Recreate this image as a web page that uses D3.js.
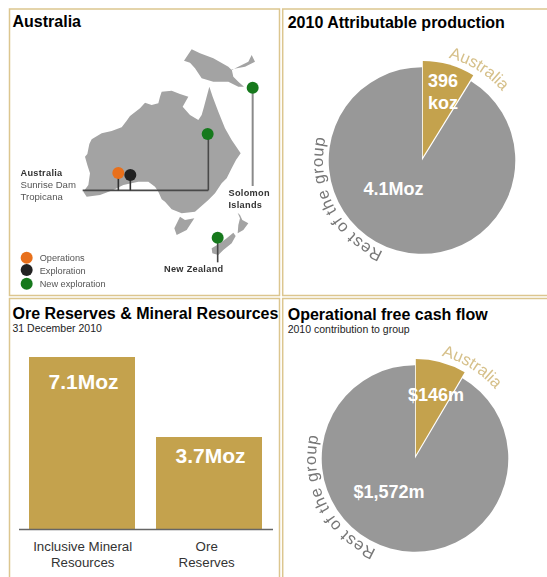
<!DOCTYPE html>
<html><head><meta charset="utf-8">
<style>html,body{margin:0;padding:0;background:#fff}svg{display:block}text{font-family:"Liberation Sans",Arial,sans-serif}</style>
<script src="https://cdn.jsdelivr.net/npm/d3@7"></script>
</head><body><svg id="c" width="547" height="577"></svg>
<script>
// Data
const productionNames = ["Australia", "Rest of the group"];
const productionValues = [396, 4100];
const productionLabels = ["396", "koz", "4.1Moz"];
const cashFlowNames = ["Australia", "Rest of the group"];
const cashFlowValues = [146, 1572];
const cashFlowLabels = ["$146m", "$1,572m"];
const oreCategories = [["Inclusive Mineral", "Resources"], ["Ore", "Reserves"]];
const oreValues = [7.1, 3.7];
const oreLabels = ["7.1Moz", "3.7Moz"];
const legendNames = ["Operations", "Exploration", "New exploration"];
// Base map outlines and sites, on a map grid of 840 x 900 units
const australiaRing = [[262,462],[268,432],[275,418],[305,400],[335,393],[365,382],[380,362],[390,348],[420,325],[435,308],[455,315],[475,310],[480,290],[485,275],[515,272],[540,282],[565,290],[548,320],[570,345],[595,360],[605,345],[612,320],[620,290],[628,260],[638,290],[655,335],[675,385],[695,420],[722,460],[708,480],[695,505],[680,535],[665,550],[645,580],[625,600],[585,635],[545,640],[515,628],[495,605],[485,598],[475,575],[465,560],[445,545],[415,545],[370,555],[340,570],[300,585],[260,590],[250,575],[265,555],[270,520],[262,495],[255,470]];
const papuaRing = [[552,182],[575,148],[600,160],[640,175],[685,200],[695,210],[745,185],[755,165],[765,185],[735,200],[695,208],[700,230],[715,245],[732,260],[715,260],[685,245],[640,245],[605,235],[585,205],[570,188]];
const tasmaniaRing = [[540,650],[555,660],[583,655],[560,690],[530,705],[523,685]];
const nzSouthRing = [[635,745],[660,730],[680,715],[700,698],[707,708],[695,730],[670,750],[655,765],[637,760]];
const nzNorthRing = [[713,638],[720,645],[727,660],[745,670],[730,690],[713,700],[715,675],[720,655]];
const sites = [
  {kind:0, x:355, y:519},
  {kind:1, x:391, y:525},
  {kind:2, x:623, y:402},
  {kind:2, x:758, y:263},
  {kind:2, x:653, y:713}
];
const kindColors = ["#e8701a", "#232323", "#17791f"];

const svg = d3.select("#c");
const gold = "#c4a24d", grey = "#989898", tan = "#dcc68f";
const defs = svg.append("defs");
defs.append("filter").attr("id","soft").append("feGaussianBlur").attr("stdDeviation",0.55);
defs.append("filter").attr("id","soft2").append("feGaussianBlur").attr("stdDeviation",0.3);

// Panels
[[9.5,9,270,286.5],[282.7,9,270,286.5],[9.5,298.5,270,290],[282.7,298.5,270,290]].forEach(r=>{
  svg.append("rect").attr("x",r[0]).attr("y",r[1]).attr("width",r[2]).attr("height",r[3])
    .attr("fill","none").attr("stroke",tan).attr("stroke-width",1.5);
});
function title(x,y,t){svg.append("text").attr("x",x).attr("y",y).attr("font-size",16).attr("font-weight","bold").attr("fill","#000").text(t);}
function sub(x,y,t){svg.append("text").attr("x",x).attr("y",y).attr("font-size",10.5).attr("fill","#222").text(t);}
title(12.5,27,"Australia");
title(287.7,28,"2010 Attributable production");
title(12.5,319,"Ore Reserves & Mineral Resources");
title(287.7,320,"Operational free cash flow");
sub(12.5,332,"31 December 2010");
sub(287.7,333,"2010 contribution to group");

// Map
const mx = d3.scaleLinear().domain([0,840]).range([0,280]);
const my = d3.scaleLinear().domain([0,900]).range([0,300]);
const ringLine = d3.line().x(d=>mx(d[0])).y(d=>my(d[1])).curve(d3.curveLinearClosed);
const map = svg.append("g").attr("filter","url(#soft)");
[australiaRing,papuaRing,tasmaniaRing,nzSouthRing,nzNorthRing].forEach(r=>{
  map.append("path").attr("d",ringLine(r)).attr("fill","#a3a3a3");
});
function stem(x1,y1,x2,y2,c,w){map.append("line").attr("x1",mx(x1)).attr("y1",my(y1)).attr("x2",mx(x2)).attr("y2",my(y2)).attr("stroke",c).attr("stroke-width",w);}
stem(248,571,625,571,"#4a4a4a",1.6);
stem(625,402,625,571,"#4a4a4a",1.6);
stem(355,519,355,571,"#333",1.6);
stem(391,525,391,571,"#333",1.6);
stem(758,263,758,558,"#8a8a8a",2);
stem(653,713,653,787,"#444",1.6);
map.selectAll("circle.site").data(sites).join("circle").attr("class","site")
  .attr("cx",d=>mx(d.x)).attr("cy",d=>my(d.y)).attr("r",6)
  .attr("fill",d=>kindColors[d.kind]);
legendNames.forEach((n,i)=>{
  const ly = [773,810,851][i];
  map.append("circle").attr("cx",mx(80)).attr("cy",my(ly)).attr("r",6).attr("fill",kindColors[i]);
  map.append("text").attr("x",mx(119)).attr("y",my(ly)+3.5).attr("font-size",9.2).attr("fill","#555").text(n);
});
function mapText(x,y,t,bold,c){map.append("text").attr("x",x).attr("y",y).attr("font-size",bold?9.2:9.6).attr("letter-spacing",bold?0.3:0)
  .attr("font-weight",bold?"bold":"normal").attr("fill",c).text(t);}
mapText(20.5,176,"Australia",true,"#333");
mapText(20.5,188,"Sunrise Dam",false,"#555");
mapText(20.5,200,"Tropicana",false,"#555");
mapText(228.5,196,"Solomon",true,"#333");
mapText(228.5,208,"Islands",true,"#333");
mapText(164,272,"New Zealand",true,"#333");

// Pies
function pieChart(cx,cy,values,names,gapx,idSuffix,startRest,endRest,startAus,endAus){
  const arcs = d3.pie().sort(null)(values);
  const g = svg.append("g").attr("transform",`translate(${cx},${cy})`);
  g.append("path").attr("d",d3.arc().innerRadius(0).outerRadius(93.3)(arcs[1])).attr("fill",grey);
  g.append("path").attr("transform",`translate(${gapx},-3.5)`)
    .attr("d",d3.arc().innerRadius(0).outerRadius(96)(arcs[0])).attr("fill",gold)
    .attr("stroke","#fff").attr("stroke-width",1).attr("paint-order","stroke");
  const pathFor = (id,r,a0,b0)=>{
    const p=d3.path();
    p.arc(0,0,r,(a0-90)*Math.PI/180,(b0-90)*Math.PI/180,false);
    defs.append("path").attr("id",id).attr("d",p.toString());
  };
  pathFor("aus"+idSuffix,106,startAus,endAus);
  pathFor("rest"+idSuffix,99,startRest,endRest);
  const t = g.append("g").attr("filter","url(#soft2)");
  t.append("text").attr("font-size",16.5).attr("fill","#d6c08a").append("textPath").attr("href","#aus"+idSuffix).text(names[0]);
  t.append("text").attr("font-size",16.5).attr("fill","#777").attr("letter-spacing",0.7).append("textPath").attr("href","#rest"+idSuffix).text(names[1]);
}
function white(x,y,t,s,anchor){svg.append("text").attr("x",x).attr("y",y).attr("font-size",s).attr("font-weight","bold").attr("fill","#fff").attr("text-anchor",anchor||"middle").text(t);}
pieChart(422,160.5,productionValues,productionNames,0.8,"A",203,295,14.5,75);
white(443,87,productionLabels[0],18);
white(443,109,productionLabels[1],18);
white(393.5,195,productionLabels[2],18);
pieChart(415,458.5,cashFlowValues,cashFlowNames,0.8,"B",203,295,14.5,75);
white(436,401,cashFlowLabels[0],18);
white(389,498,cashFlowLabels[1],18);

// Bars
const x = d3.scaleBand().domain([0,1]).range([29,262]).paddingInner(21/127).paddingOuter(0);
const y = d3.scaleLinear().domain([-0.23,7.1]).range([529.5,357]);
svg.selectAll("rect.bar").data(oreValues).join("rect").attr("class","bar")
  .attr("x",(d,i)=>x(i)).attr("width",x.bandwidth()).attr("y",d=>y(d)).attr("height",d=>y(-0.23)-y(d)).attr("fill",gold);
svg.append("line").attr("x1",19).attr("x2",273).attr("y1",529.5).attr("y2",529.5).attr("stroke","#666").attr("stroke-width",1.5);
oreLabels.forEach((l,i)=>{
  svg.append("text").attr("x",x(i)+x.bandwidth()/2+[1.5,1.5][i]).attr("y",y(oreValues[i])+[32,25.5][i])
    .attr("text-anchor","middle").attr("font-size",21).attr("font-weight","bold").attr("fill","#fff").text(l);
});
oreCategories.forEach((lines,i)=>{
  lines.forEach((s,j)=>{
    svg.append("text").attr("x",[82.7,206.7][i]).attr("y",551+16*j).attr("text-anchor","middle")
      .attr("font-size",13.3).attr("fill","#333").text(s);
  });
});
</script></body></html>
